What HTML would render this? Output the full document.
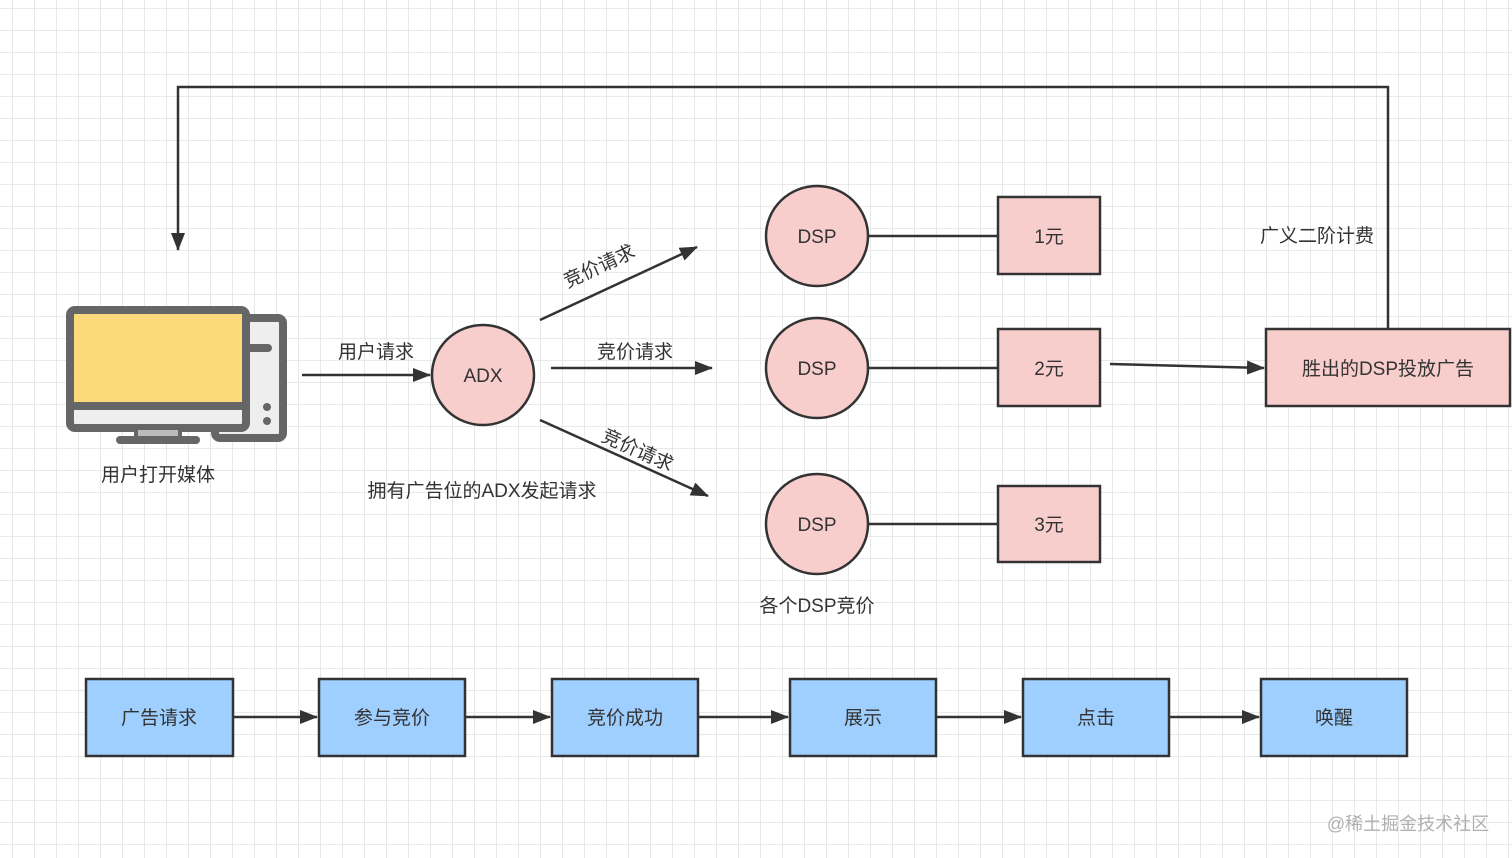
<!DOCTYPE html>
<html><head><meta charset="utf-8"><style>
html,body{margin:0;padding:0;background:#fff;}
svg{display:block;font-family:"Liberation Sans","Noto Sans CJK SC",sans-serif;}
</style></head><body>
<svg width="1512" height="858" viewBox="0 0 1512 858" xmlns="http://www.w3.org/2000/svg">
<defs>
<pattern id="g" x="12" y="8" width="22" height="22" patternUnits="userSpaceOnUse">
<path d="M0 0H22M0 0V22" stroke="#e2e2e2" stroke-width="1.6" fill="none"/>
</pattern>
<marker id="b" markerWidth="18" markerHeight="14" refX="17" refY="7" orient="auto" markerUnits="userSpaceOnUse" viewBox="0 0 18 14">
<path d="M0,0 L18,7 L0,14 Z" fill="#333"/>
</marker>
</defs>
<rect width="1512" height="858" fill="#fff"/>
<rect width="1512" height="858" fill="url(#g)"/>

<polyline points="1388,328 1388,87 178,87 178,250" fill="none" stroke="#333" stroke-width="2.5" marker-end="url(#b)"/>

<rect x="215" y="318" width="68" height="120" rx="5" fill="#eee" stroke="#666" stroke-width="8"/>
<line x1="246" y1="348" x2="268" y2="348" stroke="#666" stroke-width="8" stroke-linecap="round"/>
<circle cx="267" cy="407" r="4" fill="#666"/>
<circle cx="267" cy="421" r="4" fill="#666"/>
<rect x="70" y="310" width="176" height="118" rx="5" fill="#eee" stroke="#666" stroke-width="8"/>
<rect x="74" y="314" width="168" height="88" fill="#fcd97a"/>
<line x1="74" y1="406" x2="242" y2="406" stroke="#666" stroke-width="8"/>
<rect x="136" y="428" width="44" height="10" fill="#bbb" stroke="#666" stroke-width="4"/>
<line x1="120" y1="440" x2="196" y2="440" stroke="#666" stroke-width="8" stroke-linecap="round"/>
<text x="158" y="481" font-size="19" fill="#333" text-anchor="middle">用户打开媒体</text>

<line x1="302" y1="375" x2="430" y2="375" stroke="#333" stroke-width="2.5" marker-end="url(#b)"/>
<text x="376" y="358" font-size="19" fill="#333" text-anchor="middle">用户请求</text>

<ellipse cx="483" cy="375" rx="51" ry="50" fill="#f8cecc" stroke="#333" stroke-width="2.5"/>
<text x="483" y="382" font-size="19" fill="#333" text-anchor="middle">ADX</text>

<line x1="540" y1="320" x2="697" y2="247" stroke="#333" stroke-width="2.5" marker-end="url(#b)"/>
<text x="602" y="272" font-size="19" fill="#333" text-anchor="middle" transform="rotate(-25 602 272)">竞价请求</text>
<line x1="551" y1="368" x2="712" y2="368" stroke="#333" stroke-width="2.5" marker-end="url(#b)"/>
<text x="635" y="358" font-size="19" fill="#333" text-anchor="middle">竞价请求</text>
<line x1="540" y1="420" x2="708" y2="496" stroke="#333" stroke-width="2.5" marker-end="url(#b)"/>
<text x="635" y="456" font-size="19" fill="#333" text-anchor="middle" transform="rotate(24 635 456)">竞价请求</text>
<text x="482" y="497" font-size="19" fill="#333" text-anchor="middle">拥有广告位的ADX发起请求</text>

<g stroke="#333" stroke-width="2.5">
<line x1="868" y1="236" x2="998" y2="236"/>
<line x1="868" y1="368" x2="998" y2="368"/>
<line x1="868" y1="524" x2="998" y2="524"/>
<ellipse cx="817" cy="236" rx="51" ry="50" fill="#f8cecc"/>
<ellipse cx="817" cy="368" rx="51" ry="50" fill="#f8cecc"/>
<ellipse cx="817" cy="524" rx="51" ry="50" fill="#f8cecc"/>
<rect x="998" y="197" width="102" height="77" fill="#f8cecc"/>
<rect x="998" y="329" width="102" height="77" fill="#f8cecc"/>
<rect x="998" y="486" width="102" height="76" fill="#f8cecc"/>
<rect x="1266" y="329" width="244" height="77" fill="#f8cecc"/>
</g>
<g font-size="19" fill="#333" text-anchor="middle">
<text x="817" y="243">DSP</text>
<text x="817" y="375">DSP</text>
<text x="817" y="531">DSP</text>
<text x="1049" y="243">1元</text>
<text x="1049" y="375">2元</text>
<text x="1049" y="531">3元</text>
<text x="1388" y="375">胜出的DSP投放广告</text>
</g>
<text x="817" y="612" font-size="19" fill="#333" text-anchor="middle">各个DSP竞价</text>
<text x="1317" y="242" font-size="19" fill="#333" text-anchor="middle">广义二阶计费</text>
<line x1="1110" y1="364" x2="1264" y2="368" stroke="#333" stroke-width="2.5" marker-end="url(#b)"/>

<g stroke="#333" stroke-width="2.5" fill="#9fcfff">
<rect x="86" y="679" width="147" height="77"/>
<rect x="319" y="679" width="146" height="77"/>
<rect x="552" y="679" width="146" height="77"/>
<rect x="790" y="679" width="146" height="77"/>
<rect x="1023" y="679" width="146" height="77"/>
<rect x="1261" y="679" width="146" height="77"/>
</g>
<g stroke="#333" stroke-width="2.5">
<line x1="234" y1="717" x2="317" y2="717" marker-end="url(#b)"/>
<line x1="466" y1="717" x2="550" y2="717" marker-end="url(#b)"/>
<line x1="699" y1="717" x2="788" y2="717" marker-end="url(#b)"/>
<line x1="937" y1="717" x2="1021" y2="717" marker-end="url(#b)"/>
<line x1="1170" y1="717" x2="1259" y2="717" marker-end="url(#b)"/>
</g>
<g font-size="19" fill="#333" text-anchor="middle">
<text x="159" y="724">广告请求</text>
<text x="392" y="724">参与竞价</text>
<text x="625" y="724">竞价成功</text>
<text x="863" y="724">展示</text>
<text x="1096" y="724">点击</text>
<text x="1334" y="724">唤醒</text>
</g>
<text x="1408" y="830" font-size="18" fill="#b0b0b0" text-anchor="middle">@稀土掘金技术社区</text>
</svg>
</body></html>
